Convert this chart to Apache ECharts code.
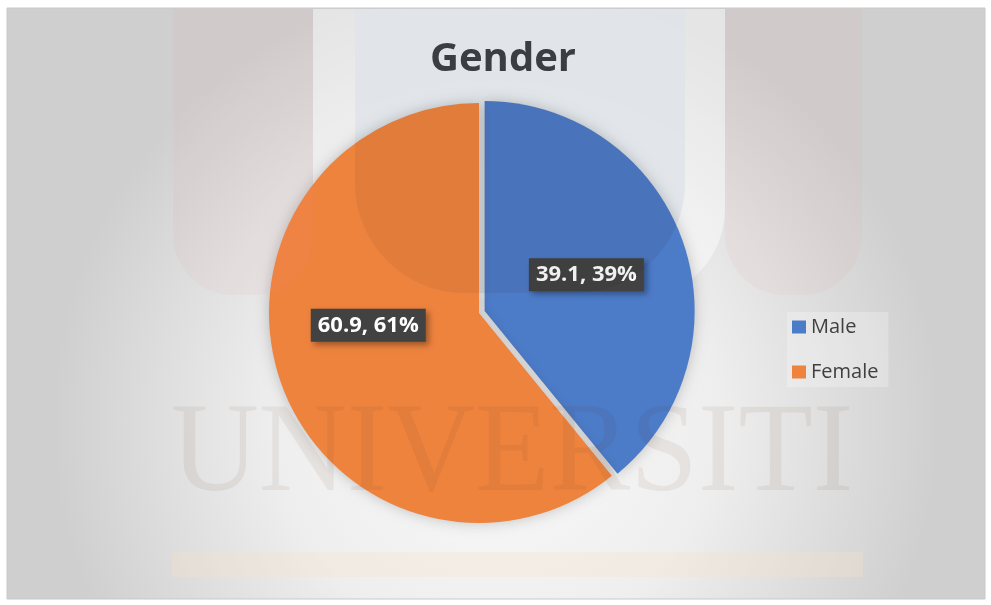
<!DOCTYPE html>
<html>
<head>
<meta charset="utf-8">
<script src="https://cdn.jsdelivr.net/npm/echarts@6/dist/echarts.min.js"></script>
<style>
  html, body { margin: 0; padding: 0; background: #fff; }
  #chart { width: 991px; height: 605px; }
</style>
</head>
<body>
<div id="chart"></div>
<script>
  // data
  var categories = ['Male', 'Female'];
  var values = [39.1, 60.9];
  var colors = ['#4c7bc8', '#ee833e'];
  // label nudges so the boxes sit where Excel put them
  var labelOffsets = [[-18, -10], [-9, -24]];

  var chart = echarts.init(document.getElementById('chart'));

  var pieData = categories.map(function (name, i) {
    return {
      name: name,
      value: values[i],
      selected: i === 0,
      label: { offset: labelOffsets[i] }
    };
  });

  // faint logo watermark behind / over the chart
  var watermark = [
    // page background + frame
    { type: 'rect', z: -20, shape: { x: 7, y: 8, width: 978, height: 591 },
      style: { fill: { type: 'radial', x: 0.5, y: 0.7, r: 0.75,
        colorStops: [{ offset: 0, color: '#fbfbfb' }, { offset: 0.5, color: '#eeeeee' }, { offset: 1, color: '#cfcfcf' }] },
        stroke: '#c9c9c9', lineWidth: 1 } },
    // lighter, bluish middle band (behind the pie)
    { type: 'rect', z: -15, shape: { x: 313, y: 9, width: 412, height: 290, r: [0, 0, 90, 90] },
      style: { fill: 'rgba(255,255,255,0.45)' } },
    { type: 'rect', z: -14, shape: { x: 355, y: 9, width: 330, height: 284, r: [0, 0, 110, 110] },
      style: { fill: 'rgba(238,246,252,0.85)' } },
    // pink side arches
    { type: 'rect', z: 10, shape: { x: 173, y: 9, width: 140, height: 286, r: [0, 0, 60, 60] },
      style: { fill: 'rgba(235,140,140,0.07)' } },
    { type: 'rect', z: 10, shape: { x: 725, y: 9, width: 137, height: 286, r: [0, 0, 60, 60] },
      style: { fill: 'rgba(235,140,140,0.07)' } },
    // inner arch, darkening what lies under it
    { type: 'rect', z: 10, shape: { x: 355, y: 9, width: 330, height: 284, r: [0, 0, 110, 110] },
      style: { fill: 'rgba(40,30,30,0.065)' } },
    // UNIVERSITI text
    { type: 'text', z: 10, x: 171, y: 392, scaleX: 0.95,
      style: { text: 'UNIVERSITI', font: '128px "Liberation Serif", serif', fill: 'rgba(90,50,30,0.075)' } },
    // beige band
    { type: 'rect', z: -15, shape: { x: 172, y: 552, width: 691, height: 25 },
      style: { fill: 'rgba(248,225,200,0.3)' } }
  ];

  chart.setOption({
    color: colors,
    animation: false,
    title: {
      text: 'Gender',
      left: 503,
      top: 40,
      textAlign: 'center',
      padding: 0,
      textStyle: { fontFamily: 'Open Sans', fontWeight: 'bold', fontSize: 40, color: '#3b4045' }
    },
    legend: {
      orient: 'vertical',
      left: 787,
      top: 312,
      padding: [5, 10, 5, 5],
      itemGap: 25,
      itemWidth: 14,
      itemHeight: 13,
      icon: 'rect',
      backgroundColor: 'rgba(255,255,255,0.25)',
      textStyle: { fontFamily: 'Open Sans', fontSize: 20, lineHeight: 20, color: '#404040' },
      data: categories
    },
    graphic: watermark,
    series: [
      {
        type: 'pie',
        center: [479, 313],
        radius: 210,
        startAngle: 90,
        clockwise: true,
        selectedMode: 'single',
        selectedOffset: 6,
        percentPrecision: 0,
        itemStyle: { shadowBlur: 14, shadowColor: 'rgba(0,0,0,0.22)' },
        label: {
          position: 'inside',
          formatter: '{c}, {d}%',
          fontFamily: 'Open Sans',
          fontWeight: 'bold',
          fontSize: 22,
          lineHeight: 24,
          color: '#ffffff',
          backgroundColor: '#424242',
          padding: [5, 7, 4, 7],
          shadowBlur: 6,
          shadowOffsetX: 3,
          shadowOffsetY: 3,
          shadowColor: 'rgba(0,0,0,0.35)'
        },
        labelLine: { show: false },
        emphasis: { disabled: true },
        data: pieData
      }
    ]
  });
</script>
</body>
</html>
